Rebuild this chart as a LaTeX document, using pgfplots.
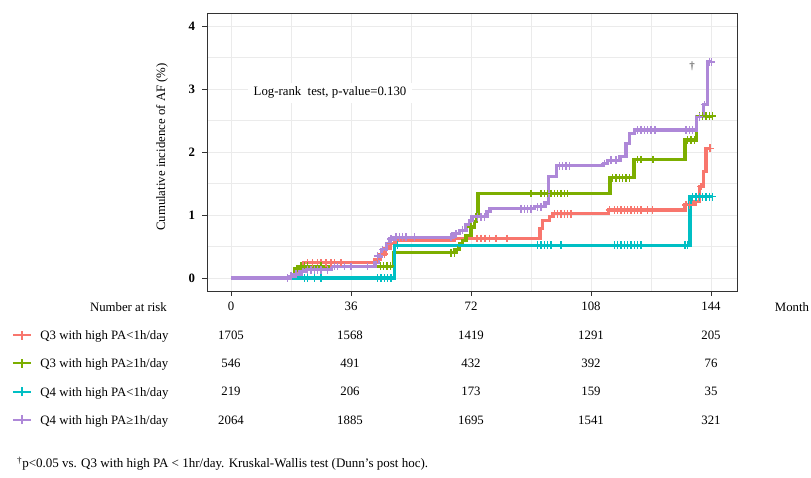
\documentclass[border=0pt]{standalone}
\usepackage{pgfplots}
\pgfplotsset{compat=1.18}
\usepackage{fontspec}
\setmainfont{Liberation Serif}
\definecolor{cR}{HTML}{F8766D}
\definecolor{cG}{HTML}{7CAE00}
\definecolor{cC}{HTML}{00BFC4}
\definecolor{cP}{HTML}{AE88D8}
\definecolor{gridc}{HTML}{EBEBEB}
\definecolor{framec}{HTML}{333333}
\begin{document}
\fontsize{12.8}{15}\selectfont
\begin{tikzpicture}[font=\fontsize{12.8}{15}\selectfont]
\path[use as bounding box] (0pt,0pt) rectangle (811pt,-477pt);
\begin{axis}[
  at={(207pt,-291pt)}, anchor=south west,
  scale only axis, width=530pt, height=278pt,
  xmin=-7.2, xmax=151.8, ymin=-0.206, ymax=4.206,
  xtick={0,36,72,108,144}, minor xtick={18,54,90,126},
  ytick={0,1,2,3,4}, minor ytick={0.5,1.5,2.5,3.5},
  grid=both,
  major grid style={gridc, line width=0.9pt},
  minor grid style={gridc, line width=0.5pt},
  axis line style={framec, line width=1.0pt},
  tick style={framec, line width=0.8pt},
  tick align=outside, major tick length=4.5pt, minor tick length=0pt,
  xtick pos=bottom, ytick pos=left,
  /pgf/number format/assume math mode=true,
  tick label style={font=\fontsize{12.8}{15}\selectfont},
  xticklabel style={yshift=-2pt},
  yticklabel style={font=\fontsize{12.8}{15}\selectfont\bfseries, xshift=-3pt},
  ylabel={Cumulative incidence of AF (\%)},
  ylabel style={at={(axis description cs:-0.085,0.518)}, anchor=center, font=\fontsize{12.8}{15}\selectfont},
  legend cell align=left,
  legend style={at={(axis description cs:-0.3679,-0.1073)}, anchor=north west,
    draw=none, fill=none, inner sep=0pt, outer sep=0pt, row sep=0pt, column sep=0pt,
    nodes={inner sep=0pt, minimum height=28.33pt, text height=8.7pt, text depth=0pt,
      font=\fontsize{12.8}{15}\selectfont}},
  legend image code/.code={
    \draw[#1, line width=1.8pt] (0pt,0pt) -- (18pt,0pt);
    \draw[#1, line width=1.8pt] (9pt,-4.5pt) -- (9pt,4.5pt);
    \path (26pt,0pt);},
  every axis plot/.append style={line width=3.1pt},
  censor/.style={only marks, mark=+, mark size=3.8pt, mark options={line width=1.4pt}, forget plot},
]
% Q3 with high PA<1h/day
\addplot[cR, const plot] coordinates {(0,0) (18.7,0.05) (20.1,0.15) (21.7,0.24) (43.2,0.30) (44.7,0.38) (46.2,0.47) (47.7,0.55) (49.2,0.59) (67,0.63) (92.7,0.79) (93.5,0.92) (95.5,0.98) (96.6,1.02) (113.2,1.08) (136.2,1.16) (138.7,1.21) (140.5,1.45) (141.7,1.69) (142.5,2.06) (144,2.06)};
\addlegendentry{Q3 with high PA<1h/day}
% Q3 with high PA>=1h/day
\addplot[cG, const plot] coordinates {(0,0) (19.2,0.15) (20.5,0.19) (48.7,0.40) (67.2,0.45) (68.5,0.55) (69.5,0.60) (70.5,0.68) (72,0.81) (73,0.90) (73.6,1.0) (74.1,1.34) (113.7,1.59) (120.9,1.88) (136.2,2.19) (139.7,2.57) (144.4,2.57)};
\addlegendentry{Q3 with high PA≥1h/day}
% Q4 with high PA<1h/day
\addplot[cC, const plot] coordinates {(0,0) (49.0,0.52) (137.7,1.29) (144.4,1.29)};
\addlegendentry{Q4 with high PA<1h/day}
% Q4 with high PA>=1h/day
\addplot[cP, const plot] coordinates {(0,0) (17.2,0.03) (18.8,0.06) (20.7,0.10) (22.2,0.13) (30.2,0.18) (43.2,0.25) (44.2,0.35) (45.2,0.45) (46.7,0.55) (47.7,0.62) (49.2,0.65) (66.6,0.70) (68.5,0.76) (70.5,0.85) (71.7,0.92) (72.3,0.97) (76.8,1.05) (77.7,1.1) (91,1.13) (94.2,1.19) (95.2,1.61) (97.7,1.78) (111.7,1.82) (113,1.87) (116.7,1.93) (118.5,2.14) (119.5,2.30) (121,2.35) (139.7,2.56) (141.7,2.75) (142.9,3.43) (144.2,3.43)};
\addlegendentry{Q4 with high PA≥1h/day}
% censoring marks
\addplot[cR, censor] coordinates {(23,0.24)(24.5,0.24)(26,0.24)(27,0.24)(28.5,0.24)(30,0.24)(31,0.24)(33,0.24)(44,0.30)(46,0.38)(48,0.55)(73.8,0.63)(75,0.63)(76.2,0.63)(77.5,0.63)(79.5,0.63)(82.8,0.63)(97,1.02)(98,1.02)(99,1.02)(100,1.02)(101,1.02)(102,1.02)(113.5,1.08)(115,1.08)(116,1.08)(117,1.08)(118,1.08)(119,1.08)(120,1.08)(121,1.08)(122,1.08)(123,1.08)(125,1.08)(126.5,1.08)(136.5,1.16)(137.5,1.16)(139.5,1.21)(141,1.45)(143.7,2.06)};
\addplot[cG, censor] coordinates {(19.8,0.15)(21,0.19)(22,0.19)(23,0.19)(27,0.19)(44.8,0.19)(45.8,0.19)(46.8,0.19)(47.8,0.19)(66,0.40)(67,0.40)(68,0.45)(72,0.81)(90,1.34)(93,1.34)(94,1.34)(95,1.34)(96,1.34)(97,1.34)(98,1.34)(99,1.34)(100,1.34)(101,1.34)(114.5,1.59)(115.5,1.59)(116.5,1.59)(117.5,1.59)(118.5,1.59)(119.5,1.59)(122,1.88)(123,1.88)(126.6,1.88)(137,2.19)(138,2.19)(139,2.19)(140.5,2.57)(141.5,2.57)(142.5,2.57)(143.5,2.57)(144.4,2.57)};
\addplot[cC, censor] coordinates {(22,0)(23,0)(25,0)(27,0)(44,0)(45,0)(46,0)(47,0)(48,0)(50,0.52)(92,0.52)(93,0.52)(94,0.52)(95,0.52)(96,0.52)(99,0.52)(115,0.52)(116,0.52)(117,0.52)(118,0.52)(119,0.52)(120,0.52)(121,0.52)(122,0.52)(123,0.52)(136.2,0.52)(137,0.52)(138.5,1.29)(139.5,1.29)(140.5,1.29)(141.5,1.29)(142.5,1.29)(143.5,1.29)(144.4,1.29)};
\addplot[cP, censor] coordinates {(17,0)(18,0.03)(19.5,0.06)(21.5,0.10)(23,0.13)(24,0.13)(25,0.13)(26,0.13)(27,0.13)(29,0.13)(31,0.18)(32,0.18)(34,0.18)(36,0.18)(41,0.18)(44,0.35)(45.5,0.45)(48,0.62)(49.5,0.65)(50.5,0.65)(51.5,0.65)(52.5,0.65)(55,0.65)(66,0.65)(67.5,0.70)(69.5,0.76)(74,0.97)(75,0.97)(76,0.97)(87,1.1)(88,1.1)(89,1.1)(90,1.1)(92,1.13)(93,1.13)(98.5,1.78)(99.5,1.78)(100.5,1.78)(101.5,1.78)(112,1.82)(114,1.87)(115.5,1.87)(122,2.35)(123,2.35)(124,2.35)(125,2.35)(126,2.35)(127.2,2.35)(136.5,2.35)(137.5,2.35)(138.5,2.35)(140.5,2.56)(142,2.75)(143.5,3.43)(144.2,3.43)};
\node[fill=white, inner xsep=6pt, inner ysep=4pt] at (axis cs:29.7,2.94) {Log-rank\ \ test, p-value=0.130};
\node[text=framec, font=\fontsize{11}{12}\selectfont] at (axis cs:138.3,3.36) {†};
\end{axis}
% number at risk table
\node[anchor=east, inner sep=0pt] at (167pt,-307pt) {Number at risk};
\node at (792pt,-307pt) {Month};
\foreach \x/\a/\b/\c/\d in {231/1705/546/219/2064, 350/1568/491/206/1885, 471/1419/432/173/1695, 591/1291/392/159/1541, 711/205/76/35/321}{
  \node at (\x pt,-335pt) {\a};
  \node at (\x pt,-363.3pt) {\b};
  \node at (\x pt,-391.7pt) {\c};
  \node at (\x pt,-420pt) {\d};
}
\node[anchor=west, inner sep=0pt, font=\fontsize{13}{15}\selectfont] at (17pt,-464pt) {\textsuperscript{†}p<0.05 vs. Q3 with high PA < 1hr/day. Kruskal-Wallis test (Dunn's post hoc).};
\end{tikzpicture}
\end{document}
